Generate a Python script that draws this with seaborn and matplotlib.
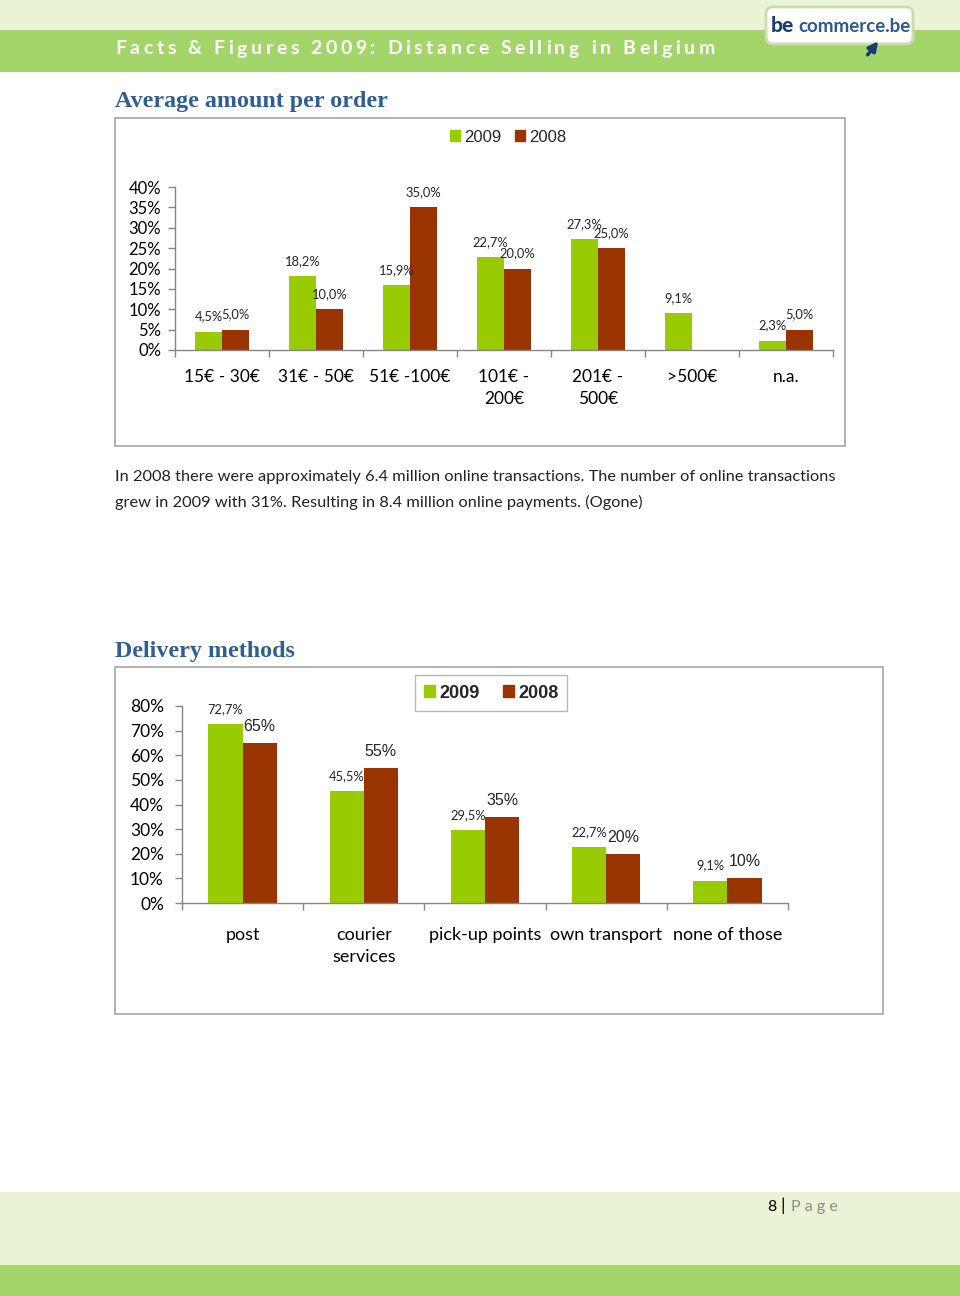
import numpy as np
import pandas as pd
import matplotlib
matplotlib.use("Agg")
import matplotlib.pyplot as plt
from matplotlib.patches import Rectangle, Patch, FancyBboxPatch
import seaborn as sns

# chart data
amount_cats = ["15€ - 30€", "31€ - 50€", "51€ -100€", "101€ -\n200€",
               "201€ -\n500€", ">500€", "n.a."]
amount_2009 = [4.5, 18.2, 15.9, 22.7, 27.3, 9.1, 2.3]
amount_2008 = [5.0, 10.0, 35.0, 20.0, 25.0, 0.0, 5.0]

delivery_cats = ["post", "courier\nservices", "pick-up points",
                 "own transport", "none of those"]
delivery_2009 = [72.7, 45.5, 29.5, 22.7, 9.1]
delivery_2008 = [65, 55, 35, 20, 10]

years = ["2009", "2008"]
colors = {"2009": "#99CC00", "2008": "#993300"}

header = "Facts & Figures 2009: Distance Selling in Belgium"
para = ["In 2008 there were approximately 6.4 million online transactions. "
        "The number of online transactions",
        "grew in 2009 with 31%. Resulting in 8.4 million online payments. (Ogone)"]

sns.set_style("white")
plt.rcParams["font.family"] = ["Lato", "DejaVu Sans"]

W, H = 960, 1296
fig = plt.figure(figsize=(W / 100, H / 100), dpi=100)
renderer = fig.canvas.get_renderer()

page = fig.add_axes([0, 0, 1, 1])
page.set_xlim(0, W)
page.set_ylim(H, 0)
page.axis("off")

LIGHT, DARK = "#EBF3D5", "#A4D56A"
BLUE, NAVY, GREY = "#2F5F91", "#1B3D6E", "#868686"

# header / footer bands
page.add_patch(Rectangle((0, 0), W, 30, color=LIGHT, lw=0))
page.add_patch(Rectangle((0, 30), W, 42, color=DARK, lw=0))
page.add_patch(Rectangle((0, 1192), W, 73, color=LIGHT, lw=0))
page.add_patch(Rectangle((0, 1265), W, 31, color=DARK, lw=0))

# letter-spaced header title
def width_of(s, **kw):
    t = page.text(0, 0, s, **kw)
    w = t.get_window_extent(renderer).width
    t.remove()
    return w

hkw = dict(fontsize=14, fontweight="bold", color="white", va="center")
space_w = width_of("x x", **hkw) - width_of("xx", **hkw)
widths = [space_w if c == " " else width_of(c, **hkw) for c in header]
gap = (600 - sum(widths)) / (len(header) - 1)
x = 115
for c, w in zip(header, widths):
    if c != " ":
        page.text(x, 49, c, **hkw)
    x += w + gap

# logo
page.add_patch(FancyBboxPatch((766, 7), 147, 37,
                              boxstyle="round,pad=0,rounding_size=7",
                              fc="white", ec="#C9DDB0", lw=2))
page.text(771, 26, "be", fontsize=15, fontweight="black", color=NAVY, va="center")
page.text(798, 26, "commerce.be", fontsize=13.5, fontweight="bold", color="#2C5A8C",
          va="center")
page.annotate("", xy=(880, 39), xytext=(866, 57),
              arrowprops=dict(arrowstyle="-|>", color=NAVY, lw=2.5, mutation_scale=14))

# section titles and text
tkw = dict(fontsize=17.3, fontweight="bold", color=BLUE, va="center",
           family=["Liberation Serif", "DejaVu Serif"])
page.text(115, 102, "Average amount per order", **tkw)
page.text(115, 651, "Delivery methods", **tkw)
for i, line in enumerate(para):
    page.text(115, 477 + 25 * i, line, fontsize=11.8, color="#222222", va="center")

# chart frames
page.add_patch(Rectangle((115, 118), 730, 328, fill=False, ec="#A6A6A6", lw=1.2))
page.add_patch(Rectangle((115, 667), 768, 347, fill=False, ec="#A6A6A6", lw=1.2))

# footer page number
page.text(767, 1207, "8", fontsize=11.5, color="black", va="center")
page.text(780, 1206, "|", fontsize=13, color="black", va="center")
page.text(791, 1207, "P a g e", fontsize=11.5, color="#8C8C8C", va="center")


def px_axes(left, top, right, bottom):
    return fig.add_axes([left / W, 1 - bottom / H, (right - left) / W, (bottom - top) / H])


def draw_chart(ax, cats, v09, v08, ymax, ystep, width, fmt08, lab_font08,
               xfs, yfs, xpad, ypad):
    df = pd.DataFrame({"category": cats, "2009": v09, "2008": v08})
    df = df.melt(id_vars="category", var_name="year", value_name="share")
    sns.barplot(data=df, x="category", y="share", hue="year", order=cats,
                hue_order=years, palette=colors, width=width, saturation=1,
                linewidth=0, errorbar=None, legend=False, ax=ax)
    ax.set_facecolor("none")
    ax.set_xlim(-0.5, len(cats) - 0.5)
    ax.set_ylim(0, ymax)
    ax.set_yticks(np.arange(0, ymax + 1, ystep))
    ax.set_yticklabels([f"{v:.0f}%" for v in np.arange(0, ymax + 1, ystep)])
    ax.set_xticks(np.arange(-0.5, len(cats)), minor=True)
    ax.set_xlabel("")
    ax.set_ylabel("")
    for s in ["top", "right"]:
        ax.spines[s].set_visible(False)
    for s in ["left", "bottom"]:
        ax.spines[s].set_color(GREY)
        ax.spines[s].set_linewidth(1)
    ax.tick_params(axis="x", which="major", bottom=False, pad=xpad,
                   labelsize=xfs, colors="black")
    ax.tick_params(axis="x", which="minor", bottom=True, length=5, width=1,
                   color=GREY)
    ax.tick_params(axis="y", left=True, length=5, width=1, color=GREY,
                   pad=ypad, labelsize=yfs, labelcolor="black")
    for lab in ax.get_xticklabels():
        lab.set_linespacing(1.45)

    fmts = {"2009": lambda v: f"{v:.1f}".replace(".", ",") + "%", "2008": fmt08}
    fonts = {"2009": dict(fontsize=9.3), "2008": lab_font08}
    for cont, yr in zip(ax.containers, years):
        labels = [fmts[yr](v) if v > 0 else "" for v in cont.datavalues]
        ax.bar_label(cont, labels=labels, padding=6.5, **fonts[yr])


handles = [Patch(color=colors[y], label=y) for y in years]

# chart 1: average amount per order
ax1 = px_axes(175, 187, 833, 350)
draw_chart(ax1, amount_cats, amount_2009, amount_2008, 40, 5, 0.574,
           lambda v: f"{v:.1f}".replace(".", ",") + "%", dict(fontsize=9.3),
           xfs=12.5, yfs=12, xpad=10, ypad=5)
fig.legend(handles=handles, loc="center", bbox_to_anchor=(508 / W, 1 - 137 / H),
           ncol=2, frameon=False, handlelength=0.6, handleheight=0.6,
           handletextpad=0.25, columnspacing=0.8,
           prop=dict(family="Liberation Sans", size=12))

# chart 2: delivery methods
ax2 = px_axes(182, 706, 788, 903)
draw_chart(ax2, delivery_cats, delivery_2009, delivery_2008, 80, 10, 0.565,
           lambda v: f"{v:.0f}%", dict(fontsize=11.5, family="Liberation Sans"),
           xfs=13, yfs=12.5, xpad=14, ypad=8)
leg2 = fig.legend(handles=handles, loc="center", bbox_to_anchor=(491 / W, 1 - 693 / H),
                  ncol=2, frameon=True, fancybox=False, edgecolor="#A6A6A6",
                  handlelength=0.6, handleheight=0.6, handletextpad=0.25,
                  columnspacing=1.3, borderpad=0.5, borderaxespad=0,
                  prop=dict(family="Liberation Sans", size=13, weight="bold"))
leg2.get_frame().set_linewidth(1)

fig.savefig("out.png", dpi=100)
